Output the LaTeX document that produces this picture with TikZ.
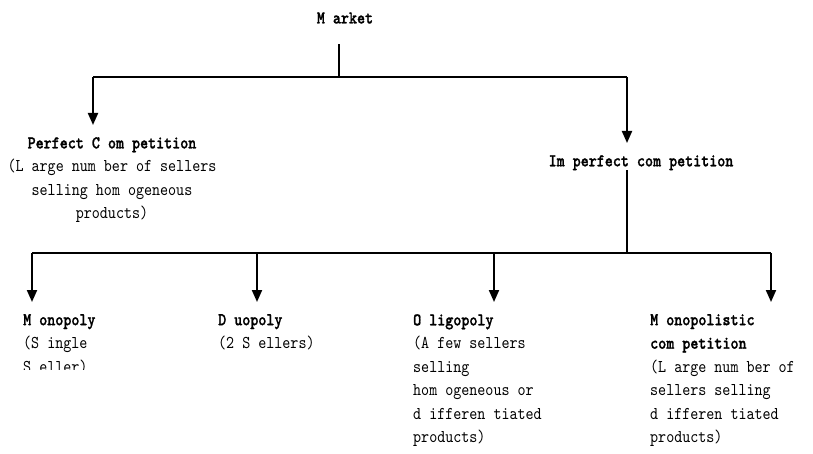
\documentclass[tikz,border=0pt]{standalone}
\usepackage{fontspec}
\newfontfamily\chartfont{lmmono10-regular}[Extension=.otf,BoldFont=lmmonolt10-bold,BoldFeatures={FakeBold=1.2},FakeStretch=0.85]
\usepackage{tikz}
\usetikzlibrary{arrows.meta,positioning,calc}
\tikzset{
  headbox/.style={inner sep=0pt,align=center,font=\chartfont\fontsize{18}{23.5}\selectfont\bfseries},
  itembox/.style={inner sep=0pt,align=left,anchor=north west,font=\chartfont\fontsize{18}{23.5}\selectfont},
  barline/.style={line width=1.4pt},
  downarrow/.style={-{Triangle[length=12pt,width=10pt]},line width=2pt,shorten >=12pt}
}

\begin{document}
\begin{tikzpicture}[x=1pt,y=-1pt]
  \useasboundingbox (0,0) rectangle (813,454);
  \node[headbox,minimum height=52pt] (market) at (345,18) {M arket};
  \node[headbox,anchor=north,font=\chartfont\fontsize{18}{23.5}\selectfont] (perfect) at (112,137)
    {\bfseries Perfect C om petition\\(L arge num ber of sellers\\selling hom ogeneous\\products)};
  \node[headbox,anchor=north] (imperfect) at (641,155) {Im perfect com petition};
  \begin{scope}
    \clip (0,300) rectangle (200,369);
    \node[itembox] (monopoly) at (23,314) {\bfseries M onopoly\\(S ingle\\S eller)};
  \end{scope}
  \node[itembox] (duopoly) at (218,314) {\bfseries D uopoly\\(2 S ellers)};
  \node[itembox] (oligopoly) at (413,314)
    {\bfseries O ligopoly\\(A few  sellers\\selling\\hom ogeneous or\\d ifferen tiated\\products)};
  \node[itembox] (monopolistic) at (650,314)
    {\bfseries M onopolistic\\\bfseries com petition\\(L arge num ber of\\sellers selling\\d ifferen tiated\\products)};
  % top bar
  \coordinate (topmid) at (339,77);
  \coordinate (topleft) at (93,77);
  \coordinate (topright) at (627,77);
  \draw[barline] (market.south -| topmid) -- (topmid);
  \draw[barline] (topleft) -- (topright);
  \draw[downarrow] (topleft) -- (topleft |- perfect.north);
  \draw[downarrow] (topright) -- (topright |- imperfect.north);
  % bottom bar
  \coordinate (lowmid) at (627,253);
  \coordinate (low1) at (32,253);
  \coordinate (low2) at (257,253);
  \coordinate (low3) at (494,253);
  \coordinate (low4) at (771,253);
  \draw[barline] (imperfect.south -| lowmid) -- (lowmid);
  \draw[barline] (low1) -- (low4);
  \draw[downarrow] (low1) -- (low1 |- monopoly.north);
  \draw[downarrow] (low2) -- (low2 |- duopoly.north);
  \draw[downarrow] (low3) -- (low3 |- oligopoly.north);
  \draw[downarrow] (low4) -- (low4 |- monopolistic.north);
\end{tikzpicture}
\end{document}
